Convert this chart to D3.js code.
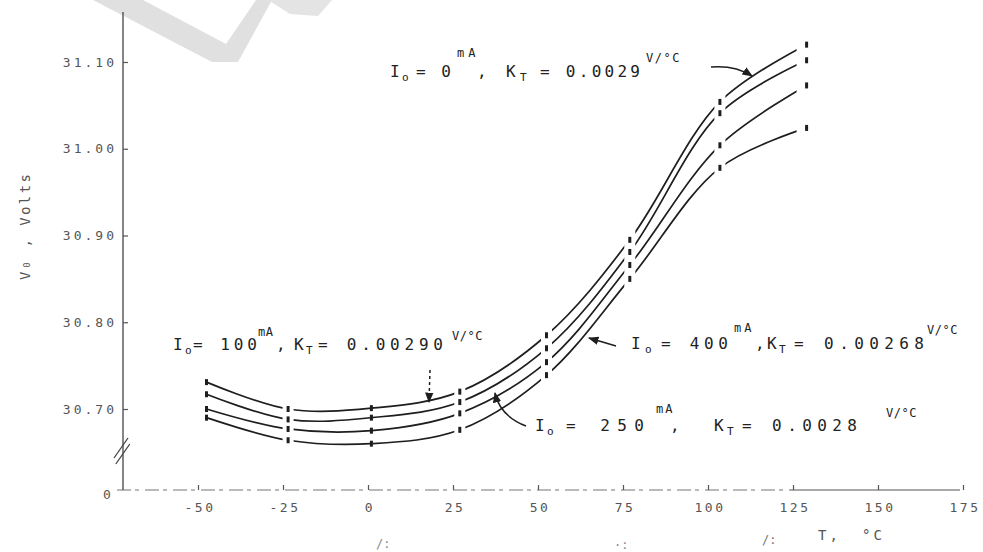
<!DOCTYPE html>
<html>
<head>
<meta charset="utf-8">
<script src="https://cdn.jsdelivr.net/npm/d3@7"></script>
<style>
  body { margin: 0; background: #fff; }
  svg { display: block; }
  text { font-family: "DejaVu Sans Mono", "Liberation Mono", monospace; }
</style>
</head>
<body>
<svg id="chart" width="983" height="552"></svg>
<script>
// Output voltage V0 versus junction temperature for four load currents
const temps   = [-47.5, -23.5, 1, 27, 52.5, 77, 103.5, 129];
const v0mA    = [30.731, 30.700, 30.701, 30.720, 30.785, 30.895, 31.054, 31.120];
const v100mA  = [30.717, 30.688, 30.690, 30.708, 30.770, 30.881, 31.041, 31.102];
const v250mA  = [30.700, 30.677, 30.675, 30.695, 30.754, 30.866, 31.004, 31.073];
const v400mA  = [30.690, 30.664, 30.660, 30.676, 30.739, 30.850, 30.978, 31.024];
const seriesNames = ["0 mA", "100 mA", "250 mA", "400 mA"];
const xTicks = [-50, -25, 0, 25, 50, 75, 100, 125, 150, 175];
const yTicks = [30.70, 30.80, 30.90, 31.00, 31.10];
const yTickLabels = ["30.70", "30.80", "30.90", "31.00", "31.10"];

const svg = d3.select("#chart");
const ink = "#1e1e1e";

// faint diagonal watermark stroke across the top
svg.append("polygon")
  .attr("points", "93,0 143,0 226,44 256,0 272,0 238,62 212,62")
  .attr("fill", "#e0e0e0");
svg.append("polygon")
  .attr("points", "268,0 332,0 318,16 290,14")
  .attr("fill", "#e4e4e4");

const x = d3.scaleLinear().domain([0, 175]).range([368, 963]);
const y = d3.scaleLinear().domain([30.70, 31.10]).range([409, 62]);
const axisY = 490, axisX = 123;

// x axis: faded dashed run, then a solid stretch at the right
svg.append("line")
  .attr("x1", 117).attr("x2", 790).attr("y1", axisY).attr("y2", axisY)
  .attr("stroke", "#777").attr("stroke-width", 1.2)
  .attr("stroke-dasharray", "14 4 4 6");
svg.append("line")
  .attr("x1", 790).attr("x2", 960).attr("y1", axisY).attr("y2", axisY)
  .attr("stroke", "#555").attr("stroke-width", 1.2);
const gx = svg.append("g").attr("transform", `translate(0,${axisY})`)
  .call(d3.axisBottom(x).tickValues(xTicks).tickSizeInner(-5).tickSizeOuter(0)
        .tickPadding(13).tickFormat(d => d));
gx.select(".domain").remove();
gx.selectAll(".tick line").attr("stroke", "#555").attr("stroke-width", 1.2);
gx.selectAll(".tick text").attr("fill", "#555").attr("font-size", 13)
  .attr("dx", "1.5px").style("letter-spacing", "2.5px");

// y axis
svg.append("line")
  .attr("x1", axisX).attr("x2", axisX).attr("y1", 12).attr("y2", axisY)
  .attr("stroke", "#444").attr("stroke-width", 1.3);
const gy = svg.append("g").attr("transform", `translate(${axisX},0)`)
  .call(d3.axisLeft(y).tickValues(yTicks).tickSizeInner(-5).tickSizeOuter(0)
        .tickPadding(6).tickFormat((d, i) => yTickLabels[i]));
gy.select(".domain").remove();
gy.selectAll(".tick line").attr("stroke", "#555").attr("stroke-width", 1.2);
gy.selectAll(".tick text").attr("fill", "#555").attr("font-size", 13)
  .style("letter-spacing", "3px");

// axis break and origin
[0, 6].forEach(o => svg.append("line")
  .attr("x1", 114 + o * 0.3).attr("y1", 458 + o).attr("x2", 128 + o * 0.3).attr("y2", 438 + o)
  .attr("stroke", "#444").attr("stroke-width", 1.3));
svg.append("text").attr("x", 103).attr("y", 499).attr("fill", "#555")
  .attr("font-size", 13).text("0");

// axis titles
svg.append("text").attr("transform", "translate(30,227) rotate(-90)")
  .attr("text-anchor", "middle").attr("fill", "#555").attr("font-size", 14)
  .attr("textLength", 106).attr("lengthAdjust", "spacing").text("V₀ , Volts");
const tTitle = svg.append("g").attr("fill", "#555").attr("font-size", 14);
tTitle.append("text").attr("x", 818).attr("y", 540).style("letter-spacing", "3px").text("T,");
tTitle.append("text").attr("x", 862).attr("y", 540).style("letter-spacing", "3px").text("°C");
svg.append("text").attr("x", 762).attr("y", 544).attr("fill", "#777")
  .attr("font-size", 12).text("/:");
svg.append("text").attr("x", 376).attr("y", 548).attr("fill", "#888")
  .attr("font-size", 12).text("/:");
svg.append("text").attr("x", 614).attr("y", 549).attr("fill", "#888")
  .attr("font-size", 12).text("·:");

// curves, broken around the measurement columns
const data = [v0mA, v100mA, v250mA, v400mA].map((vals, k) => ({
  name: seriesNames[k],
  pts: temps.map((t, i) => ({ t, v: vals[i] }))
}));

const defs = svg.append("defs");
const mask = defs.append("mask").attr("id", "gaps");
mask.append("rect").attr("x", 0).attr("y", 0).attr("width", 983).attr("height", 552).attr("fill", "#fff");
temps.forEach((t, i) => {
  if (i === 0 || i === 2) return;
  const w = i === temps.length - 1 ? 20 : 11;
  mask.append("rect").attr("x", x(t) - w / 2).attr("y", 0)
    .attr("width", w).attr("height", 552).attr("fill", "#000");
});

const line = d3.line().x(d => x(d.t)).y(d => y(d.v)).curve(d3.curveCatmullRom.alpha(0.5));
svg.append("g").attr("mask", "url(#gaps)")
  .selectAll("path").data(data).join("path")
  .attr("d", d => line(d.pts))
  .attr("fill", "none").attr("stroke", ink).attr("stroke-width", 1.7);

// measurement marks
svg.append("g").selectAll("g").data(data).join("g")
  .selectAll("rect").data(d => d.pts).join("rect")
  .attr("x", d => x(d.t) - 1.5).attr("y", d => y(d.v) - 3)
  .attr("width", 3).attr("height", 6).attr("fill", ink);

// labels with sub- and superscripts: [text, x, kind, width, baseline]
function label(parts, base) {
  const g = svg.append("g").attr("fill", "#222");
  parts.forEach(([s, px, kind, w, by]) => {
    const t = g.append("text").attr("x", px).text(s);
    if (kind === "sub") t.attr("y", base + 4).attr("font-size", 11);
    else if (kind === "sup") t.attr("y", by).attr("font-size", 12).style("letter-spacing", w + "px");
    else {
      t.attr("y", base).attr("font-size", 16);
      if (w) t.attr("textLength", w).attr("lengthAdjust", "spacing");
    }
  });
}
label([["I", 390, "n"], ["o", 402, "sub"], ["= 0", 416, "n", 35], ["mA", 457, "sup", 4, 57],
       [",", 477, "n"], ["K", 506, "n"], ["T", 520, "sub"], ["= 0.0029", 540, "n", 100],
       ["V/°C", 646, "sup", 1.5, 62]], 77);
label([["I", 173, "n"], ["o", 185, "sub"], ["= 100", 193, "n", 64], ["mA", 258, "sup", 0.5, 336],
       [",", 276, "n"], ["K", 294, "n"], ["T", 306, "sub"], ["= 0.00290", 318, "n", 125],
       ["V/°C", 452, "sup", 0.5, 340]], 350);
label([["I", 631, "n"], ["o", 645, "sub"], ["= 400", 661, "n", 67], ["mA", 734, "sup", 3, 332],
       [",", 755, "n"], ["K", 767, "n"], ["T", 779, "sub"], ["= 0.00268", 794, "n", 130],
       ["V/°C", 927, "sup", 0.5, 334]], 349);
label([["I", 535, "n"], ["o", 547, "sub"], ["= 250", 566, "n", 78], ["mA", 656, "sup", 2, 413],
       [",", 670, "n"], ["K", 714, "n"], ["T", 727, "sub"], ["= 0.0028", 742, "n", 115],
       ["V/°C", 886, "sup", 0.5, 417]], 431);

// pointers
defs.append("marker").attr("id", "head").attr("viewBox", "0 0 10 10")
  .attr("refX", 9).attr("refY", 5).attr("markerWidth", 7).attr("markerHeight", 7)
  .attr("orient", "auto")
  .append("path").attr("d", "M0,1 L10,5 L0,9 Z").attr("fill", ink);
const ptr = (d, dash) => svg.append("path").attr("d", d).attr("fill", "none")
  .attr("stroke", ink).attr("stroke-width", 1.5)
  .attr("stroke-dasharray", dash || null).attr("marker-end", "url(#head)");
ptr("M711,67 Q735,65 752,76");
ptr("M616,346 L589,338");
ptr("M526,426 Q500,416 495,393");
ptr("M430,370 L429,402", "3 3");
</script>
</body>
</html>
